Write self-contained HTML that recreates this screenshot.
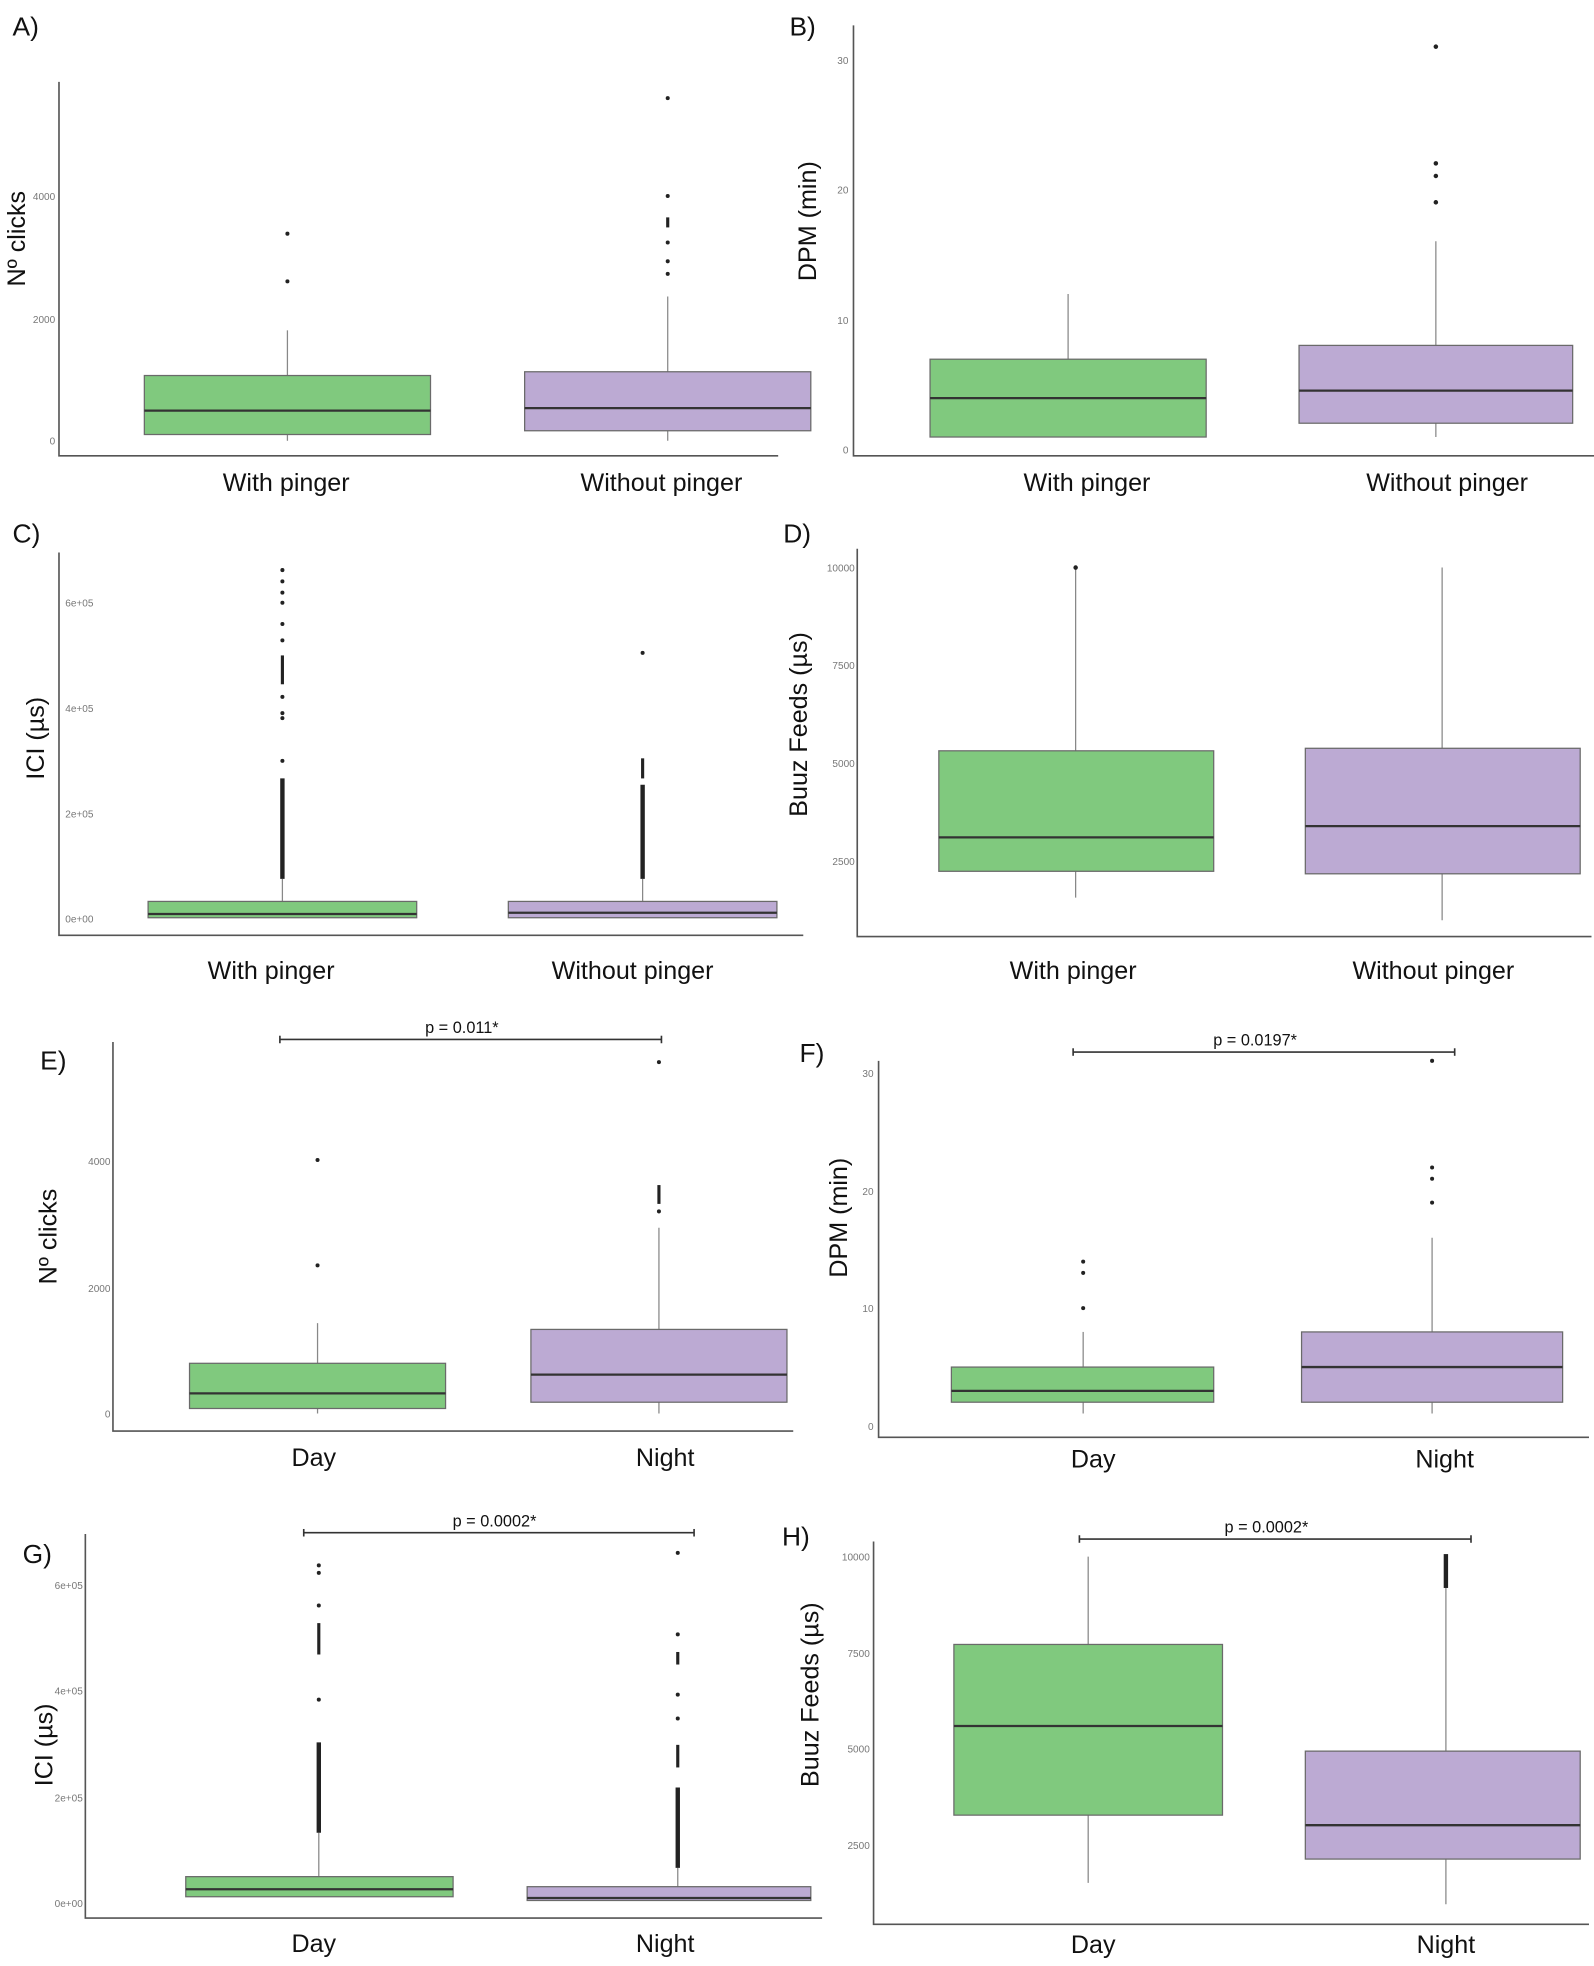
<!DOCTYPE html>
<html><head><meta charset="utf-8"><style>
html,body{margin:0;padding:0;background:#fff}
svg{display:block}
text{font-family:"Liberation Sans",sans-serif}
.t{font-size:8px;fill:#777}
.c{font-size:20px;fill:#111;text-anchor:middle}
.l{font-size:21px;fill:#111}
.y{font-size:20px;fill:#111;text-anchor:middle}
.p{font-size:13px;fill:#111;text-anchor:middle}
.ax{stroke:#555;stroke-width:1.3;fill:none}
.g{fill:#80c97e;stroke:#6a6a6a;stroke-width:1}
.v{fill:#bcaad3;stroke:#6a6a6a;stroke-width:1}
.m{stroke:#333;stroke-width:1.8}
.w{stroke:#888;stroke-width:1}
.d{fill:#222}
.dl{stroke:#222;stroke-width:3.5}
.pb{stroke:#333;stroke-width:1.3}
</style></head><body>
<svg width="1594" height="1966" viewBox="0 0 1270 1566" xmlns="http://www.w3.org/2000/svg">
<rect width="1270" height="1566" fill="#fff"/>

<!-- A -->
<text class="l" x="10" y="28">A)</text>
<path class="ax" d="M47,65 V363 H620"/>
<text class="t" x="44" y="354" text-anchor="end">0</text>
<text class="t" x="44" y="257" text-anchor="end">2000</text>
<text class="t" x="44" y="159" text-anchor="end">4000</text>
<text class="y" transform="translate(20,190) rotate(-90)">Nº clicks</text>
<line class="w" x1="229" y1="263" x2="229" y2="351"/>
<rect class="g" x="115" y="299" width="228" height="47"/>
<line class="m" x1="115" y1="327" x2="343" y2="327"/>
<circle class="d" cx="229" cy="224" r="1.6"/><circle class="d" cx="229" cy="186" r="1.6"/>
<line class="w" x1="532" y1="236" x2="532" y2="351"/>
<rect class="v" x="418" y="296" width="228" height="47"/>
<line class="m" x1="418" y1="325" x2="646" y2="325"/>
<circle class="d" cx="532" cy="78" r="1.6"/><circle class="d" cx="532" cy="156" r="1.6"/>
<line class="dl" x1="532" y1="173" x2="532" y2="181" style="stroke-width:2.5"/>
<circle class="d" cx="532" cy="193" r="1.6"/><circle class="d" cx="532" cy="208" r="1.6"/><circle class="d" cx="532" cy="218" r="1.6"/>
<text class="c" x="228" y="391">With pinger</text>
<text class="c" x="527" y="391">Without pinger</text>

<!-- B -->
<text class="l" x="629" y="28">B)</text>
<path class="ax" d="M680,20 V363 H1270"/>
<text class="t" x="676" y="361" text-anchor="end">0</text>
<text class="t" x="676" y="258" text-anchor="end">10</text>
<text class="t" x="676" y="154" text-anchor="end">20</text>
<text class="t" x="676" y="51" text-anchor="end">30</text>
<text class="y" transform="translate(650,176) rotate(-90)">DPM (min)</text>
<line class="w" x1="851" y1="234" x2="851" y2="348"/>
<rect class="g" x="741" y="286" width="220" height="62"/>
<line class="m" x1="741" y1="317" x2="961" y2="317"/>
<line class="w" x1="1144" y1="192" x2="1144" y2="348"/>
<rect class="v" x="1035" y="275" width="218" height="62"/>
<line class="m" x1="1035" y1="311" x2="1253" y2="311"/>
<circle class="d" cx="1144" cy="161" r="1.8"/><circle class="d" cx="1144" cy="140" r="1.8"/><circle class="d" cx="1144" cy="130" r="1.8"/><circle class="d" cx="1144" cy="37" r="1.8"/>
<text class="c" x="866" y="391">With pinger</text>
<text class="c" x="1153" y="391">Without pinger</text>

<!-- C -->
<text class="l" x="10" y="432">C)</text>
<path class="ax" d="M47,440 V745 H640"/>
<text class="t" x="52" y="735">0e+00</text>
<text class="t" x="52" y="651">2e+05</text>
<text class="t" x="52" y="567">4e+05</text>
<text class="t" x="52" y="483">6e+05</text>
<text class="y" transform="translate(35,588) rotate(-90)">ICI (µs)</text>
<line class="w" x1="225" y1="700" x2="225" y2="731"/>
<rect class="g" x="118" y="718" width="214" height="13"/>
<line class="m" x1="118" y1="728" x2="332" y2="728"/>
<line class="dl" x1="225" y1="620" x2="225" y2="700"/>
<circle class="d" cx="225" cy="606" r="1.6"/><circle class="d" cx="225" cy="568" r="1.6"/><circle class="d" cx="225" cy="572" r="1.6"/>
<line class="dl" x1="225" y1="522" x2="225" y2="545" style="stroke-width:2.5"/>
<circle class="d" cx="225" cy="555" r="1.6"/><circle class="d" cx="225" cy="510" r="1.6"/><circle class="d" cx="225" cy="497" r="1.6"/><circle class="d" cx="225" cy="480" r="1.6"/><circle class="d" cx="225" cy="472" r="1.6"/><circle class="d" cx="225" cy="463" r="1.6"/><circle class="d" cx="225" cy="454" r="1.6"/>
<line class="w" x1="512" y1="700" x2="512" y2="731"/>
<rect class="v" x="405" y="718" width="214" height="13"/>
<line class="m" x1="405" y1="727" x2="619" y2="727"/>
<line class="dl" x1="512" y1="625" x2="512" y2="700"/>
<line class="dl" x1="512" y1="604" x2="512" y2="620" style="stroke-width:2.5"/>
<circle class="d" cx="512" cy="520" r="1.6"/>
<text class="c" x="216" y="780">With pinger</text>
<text class="c" x="504" y="780">Without pinger</text>

<!-- D -->
<text class="l" x="624" y="432">D)</text>
<path class="ax" d="M683,437 V746 H1268"/>
<text class="t" x="681" y="455" text-anchor="end">10000</text>
<text class="t" x="681" y="533" text-anchor="end">7500</text>
<text class="t" x="681" y="611" text-anchor="end">5000</text>
<text class="t" x="681" y="689" text-anchor="end">2500</text>
<text class="y" transform="translate(643,577) rotate(-90)">Buuz Feeds (µs)</text>
<line class="w" x1="857" y1="452" x2="857" y2="715"/>
<rect class="g" x="748" y="598" width="219" height="96"/>
<line class="m" x1="748" y1="667" x2="967" y2="667"/>
<circle class="d" cx="857" cy="452" r="1.8"/>
<line class="w" x1="1149" y1="452" x2="1149" y2="733"/>
<rect class="v" x="1040" y="596" width="219" height="100"/>
<line class="m" x1="1040" y1="658" x2="1259" y2="658"/>
<text class="c" x="855" y="780">With pinger</text>
<text class="c" x="1142" y="780">Without pinger</text>

<!-- E -->
<line class="pb" x1="223" y1="828" x2="527" y2="828"/><line class="pb" x1="223" y1="825" x2="223" y2="831"/><line class="pb" x1="527" y1="825" x2="527" y2="831"/>
<text class="p" x="368" y="823">p = 0.011*</text>
<text class="l" x="32" y="852">E)</text>
<path class="ax" d="M90,830 V1140 H632"/>
<text class="t" x="88" y="1129" text-anchor="end">0</text>
<text class="t" x="88" y="1029" text-anchor="end">2000</text>
<text class="t" x="88" y="928" text-anchor="end">4000</text>
<text class="y" transform="translate(45,985) rotate(-90)">Nº clicks</text>
<line class="w" x1="253" y1="1054" x2="253" y2="1126"/>
<rect class="g" x="151" y="1086" width="204" height="36"/>
<line class="m" x1="151" y1="1110" x2="355" y2="1110"/>
<circle class="d" cx="253" cy="1008" r="1.6"/><circle class="d" cx="253" cy="924" r="1.6"/>
<line class="w" x1="525" y1="978" x2="525" y2="1126"/>
<rect class="v" x="423" y="1059" width="204" height="58"/>
<line class="m" x1="423" y1="1095" x2="627" y2="1095"/>
<circle class="d" cx="525" cy="965" r="1.6"/><line class="dl" x1="525" y1="944" x2="525" y2="959" style="stroke-width:2.5"/><circle class="d" cx="525" cy="846" r="1.6"/>
<text class="c" x="250" y="1168">Day</text>
<text class="c" x="530" y="1168">Night</text>

<!-- F -->
<line class="pb" x1="855" y1="838" x2="1159" y2="838"/><line class="pb" x1="855" y1="835" x2="855" y2="841"/><line class="pb" x1="1159" y1="835" x2="1159" y2="841"/>
<text class="p" x="1000" y="833">p = 0.0197*</text>
<text class="l" x="637" y="846">F)</text>
<path class="ax" d="M700,845 V1145 H1266"/>
<text class="t" x="696" y="1139" text-anchor="end">0</text>
<text class="t" x="696" y="1045" text-anchor="end">10</text>
<text class="t" x="696" y="952" text-anchor="end">20</text>
<text class="t" x="696" y="858" text-anchor="end">30</text>
<text class="y" transform="translate(675,970) rotate(-90)">DPM (min)</text>
<line class="w" x1="863" y1="1061" x2="863" y2="1126"/>
<rect class="g" x="758" y="1089" width="209" height="28"/>
<line class="m" x1="758" y1="1108" x2="967" y2="1108"/>
<circle class="d" cx="863" cy="1042" r="1.6"/><circle class="d" cx="863" cy="1014" r="1.6"/><circle class="d" cx="863" cy="1005" r="1.6"/>
<line class="w" x1="1141" y1="986" x2="1141" y2="1126"/>
<rect class="v" x="1037" y="1061" width="208" height="56"/>
<line class="m" x1="1037" y1="1089" x2="1245" y2="1089"/>
<circle class="d" cx="1141" cy="958" r="1.6"/><circle class="d" cx="1141" cy="939" r="1.6"/><circle class="d" cx="1141" cy="930" r="1.6"/><circle class="d" cx="1141" cy="845" r="1.6"/>
<text class="c" x="871" y="1169">Day</text>
<text class="c" x="1151" y="1169">Night</text>

<!-- G -->
<line class="pb" x1="242" y1="1221" x2="553" y2="1221"/><line class="pb" x1="242" y1="1218" x2="242" y2="1224"/><line class="pb" x1="553" y1="1218" x2="553" y2="1224"/>
<text class="p" x="394" y="1216">p = 0.0002*</text>
<text class="l" x="18" y="1245">G)</text>
<path class="ax" d="M68,1222 V1528 H655"/>
<text class="t" x="66" y="1519" text-anchor="end">0e+00</text>
<text class="t" x="66" y="1435" text-anchor="end">2e+05</text>
<text class="t" x="66" y="1350" text-anchor="end">4e+05</text>
<text class="t" x="66" y="1266" text-anchor="end">6e+05</text>
<text class="y" transform="translate(42,1390) rotate(-90)">ICI (µs)</text>
<line class="w" x1="254" y1="1460" x2="254" y2="1511"/>
<rect class="g" x="148" y="1495" width="213" height="16"/>
<line class="m" x1="148" y1="1505" x2="361" y2="1505"/>
<line class="dl" x1="254" y1="1388" x2="254" y2="1460"/>
<circle class="d" cx="254" cy="1354" r="1.6"/><line class="dl" x1="254" y1="1293" x2="254" y2="1318" style="stroke-width:2.5"/><circle class="d" cx="254" cy="1279" r="1.6"/><circle class="d" cx="254" cy="1253" r="1.6"/><circle class="d" cx="254" cy="1247" r="1.6"/>
<line class="w" x1="540" y1="1488" x2="540" y2="1514"/>
<rect class="v" x="420" y="1503" width="226" height="11"/>
<line class="m" x1="420" y1="1512" x2="646" y2="1512"/>
<line class="dl" x1="540" y1="1424" x2="540" y2="1488"/>
<line class="dl" x1="540" y1="1390" x2="540" y2="1408" style="stroke-width:2.5"/>
<circle class="d" cx="540" cy="1369" r="1.6"/><circle class="d" cx="540" cy="1350" r="1.6"/><line class="dl" x1="540" y1="1316" x2="540" y2="1326" style="stroke-width:2.5"/><circle class="d" cx="540" cy="1302" r="1.6"/><circle class="d" cx="540" cy="1237" r="1.6"/>
<text class="c" x="250" y="1555">Day</text>
<text class="c" x="530" y="1555">Night</text>

<!-- H -->
<line class="pb" x1="860" y1="1226" x2="1172" y2="1226"/><line class="pb" x1="860" y1="1223" x2="860" y2="1229"/><line class="pb" x1="1172" y1="1223" x2="1172" y2="1229"/>
<text class="p" x="1009" y="1221">p = 0.0002*</text>
<text class="l" x="623" y="1231">H)</text>
<path class="ax" d="M696,1228 V1533 H1266"/>
<text class="t" x="693" y="1243" text-anchor="end">10000</text>
<text class="t" x="693" y="1320" text-anchor="end">7500</text>
<text class="t" x="693" y="1396" text-anchor="end">5000</text>
<text class="t" x="693" y="1473" text-anchor="end">2500</text>
<text class="y" transform="translate(652,1350) rotate(-90)">Buuz Feeds (µs)</text>
<line class="w" x1="867" y1="1240" x2="867" y2="1500"/>
<rect class="g" x="760" y="1310" width="214" height="136"/>
<line class="m" x1="760" y1="1375" x2="974" y2="1375"/>
<line class="w" x1="1152" y1="1265" x2="1152" y2="1517"/>
<line class="dl" x1="1152" y1="1238" x2="1152" y2="1265"/>
<rect class="v" x="1040" y="1395" width="219" height="86"/>
<line class="m" x1="1040" y1="1454" x2="1259" y2="1454"/>
<text class="c" x="871" y="1556">Day</text>
<text class="c" x="1152" y="1556">Night</text>
</svg>
</body></html>
